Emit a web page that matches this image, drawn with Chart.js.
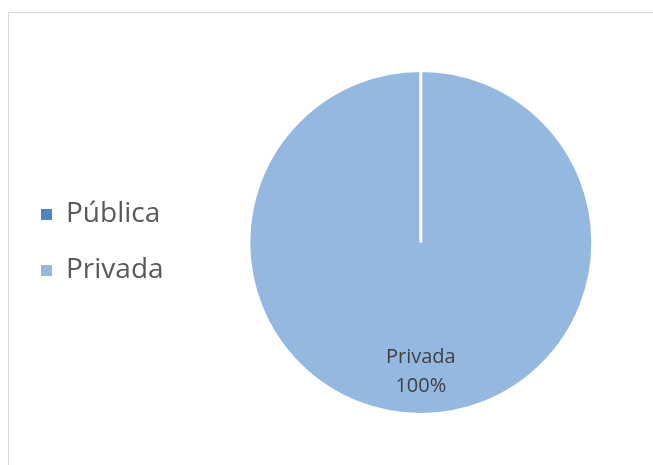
<!DOCTYPE html>
<html>
<head>
<meta charset="utf-8">
<script src="https://cdn.jsdelivr.net/npm/chart.js@4/dist/chart.umd.min.js"></script>
<style>
  html, body { margin: 0; padding: 0; background: #ffffff; overflow: hidden; }
  #frame { position: absolute; left: 8px; top: 12px; width: 700px; height: 500px;
           border-left: 1px solid #d9d9d9; border-top: 1px solid #d9d9d9; }
  #wrap { position: absolute; left: 0; top: 0; width: 653px; height: 465px; overflow: hidden; }
</style>
</head>
<body>
<div id="frame"></div>
<div id="wrap"><canvas id="c" width="700" height="465"></canvas></div>
<script>
// Sector shares (percent)
const categories = ['Pública', 'Privada'];
const shares = [0, 100];
const sliceColors = ['#4f86c0', '#95b8e0'];

// Draws "category\nvalue%" inside each non-empty slice
const sliceLabels = {
  id: 'sliceLabels',
  afterDatasetsDraw(chart) {
    const ctx = chart.ctx;
    const meta = chart.getDatasetMeta(0);
    const values = chart.data.datasets[0].data;
    const total = values.reduce((a, b) => a + b, 0);
    meta.data.forEach((arc, i) => {
      if (!values[i]) return;
      const p = arc.getProps(['x', 'y', 'startAngle', 'endAngle', 'outerRadius'], true);
      const mid = (p.startAngle + p.endAngle) / 2;
      const r = p.outerRadius * 0.75;
      const cx = p.x + Math.cos(mid) * r;
      const cy = p.y + Math.sin(mid) * r;
      ctx.save();
      ctx.fillStyle = '#404040';
      ctx.font = '20px "Open Sans", sans-serif';
      ctx.textAlign = 'center';
      ctx.textBaseline = 'middle';
      ctx.fillText(chart.data.labels[i], cx, cy - 14);
      ctx.fillText(Math.round(values[i] / total * 100) + '%', cx, cy + 15);
      ctx.restore();
    });
  }
};

new Chart(document.getElementById('c'), {
  type: 'pie',
  data: {
    labels: categories,
    datasets: [{
      data: shares,
      backgroundColor: sliceColors,
      borderColor: '#ffffff',
      borderWidth: 3,
      borderJoinStyle: 'miter'
    }]
  },
  options: {
    responsive: false,
    animation: false,
    layout: { padding: { left: 13, right: 32, top: 69, bottom: 49 } },
    plugins: {
      tooltip: { enabled: false },
      legend: {
        position: 'left',
        align: 'center',
        labels: {
          boxWidth: 11,
          boxHeight: 11,
          padding: 28,
          color: '#595959',
          font: { family: '"Open Sans", sans-serif', size: 28 },
          // solid legend squares, without the white slice outline
          generateLabels(chart) {
            return Chart.overrides.pie.plugins.legend.labels.generateLabels(chart)
              .map(item => Object.assign(item, { lineWidth: 0 }));
          }
        }
      }
    }
  },
  plugins: [sliceLabels]
});
</script>
</body>
</html>
